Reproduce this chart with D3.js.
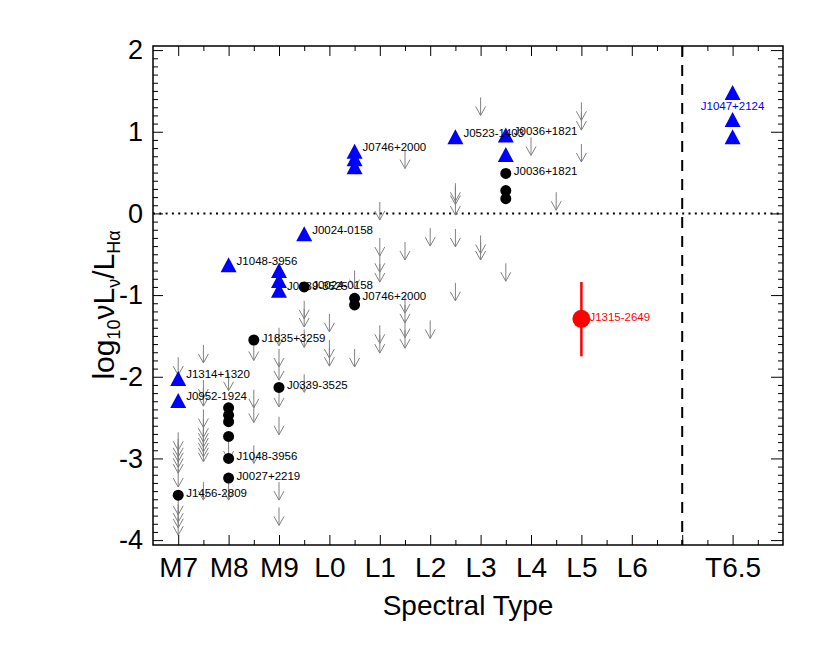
<!DOCTYPE html>
<html>
<head>
<meta charset="utf-8">
<script src="https://cdn.jsdelivr.net/npm/d3@7"></script>
<style>
  html, body { margin: 0; padding: 0; background: #fff; }
  svg { display: block; font-family: "Liberation Sans", Arial, Helvetica, sans-serif; }
</style>
</head>
<body>
<svg id="chart" width="830" height="645"></svg>
<script>
// ---------------- DATA ----------------
const xTickValues = [0, 1, 2, 3, 4, 5, 6, 7, 8, 9, 11];
const xTickLabels = ["M7", "M8", "M9", "L0", "L1", "L2", "L3", "L4", "L5", "L6", "T6.5"];
const yTickValues = [-4, -3, -2, -1, 0, 1, 2];
const yTickLabels = ["-4", "-3", "-2", "-1", "0", "1", "2"];

// radio detections (blue triangles)
const triX = [0, 0, 1, 2, 2, 2, 2.5, 3.5, 3.5, 3.5, 5.5, 6.5, 6.5, 11, 11, 11];
const triY = [-2.02, -2.29, -0.63, -0.70, -0.82, -0.94, -0.25, 0.76, 0.67, 0.57, 0.94, 0.96, 0.72, 1.48, 1.15, 0.94];

// black circles
const circX = [0, 1, 1, 1, 1, 1, 1, 1.5, 2, 2.5, 3.5, 3.5, 6.5, 6.5, 6.5];
const circY = [-3.45, -2.38, -2.47, -2.55, -2.73, -3.00, -3.24, -1.55, -2.13, -0.90, -1.04, -1.12, 0.49, 0.28, 0.18];

// red point with error bar
const redX = [8];
const redY = [-1.29];
const redLo = [-1.75];
const redHi = [-0.84];

// upper limits (grey arrows)
const limX = [
  0, 0, 0, 0, 0, 0, 0, 0, 0, 0, 0,
  0.5, 0.5, 0.5, 0.5, 0.5, 0.5, 0.5, 0.5, 0.5, 0.5, 0.5,
  1, 1, 1,
  1.5, 1.5, 1.5, 1.5,
  2, 2, 2, 2, 2, 2, 2,
  2.5, 2.5, 2.5, 2.5,
  3, 3, 3,
  3.5, 3.5,
  4, 4, 4, 4, 4, 4,
  4.5, 4.5, 4.5, 4.5, 4.5, 4.5,
  5, 5,
  5.5, 5.5, 5.5, 5.5, 5.5,
  6, 6, 6,
  6.5,
  7,
  7.5,
  8, 8, 8
];
const limY = [
  -1.76, -2.68, -2.76, -2.82, -2.89, -2.96, -3.13, -3.47, -3.56, -3.63, -3.72,
  -1.61, -2.04, -2.14, -2.40, -2.52, -2.58, -2.64, -2.70, -2.76, -2.82, -3.29,
  -1.95, -2.80, -3.29,
  -1.58, -2.16, -2.34, -2.84,
  -1.40, -1.66, -1.82, -2.15, -2.49, -3.29, -3.60,
  -1.07, -1.17, -1.42, -1.97,
  -1.23, -1.55, -1.65,
  -0.70, -1.66,
  0.14, -0.30, -0.50, -0.62, -1.37, -1.49,
  0.77, -0.35, -1.00, -1.12, -1.30, -1.43,
  -0.18, -1.31,
  0.37, 0.33, 0.20, -0.19, -0.85,
  1.42, -0.27, -0.35,
  -0.61,
  0.93,
  0.26,
  1.36, 1.24, 0.85
];

// point labels
const labelText = ["J1314+1320", "J0952-1924", "J1048-3956", "J0339-3525", "J0024-0158", "J0746+2000",
  "J0523-1403", "J0036+1821", "J0036+1821", "J1456-2809", "J1048-3956", "J0027+2219",
  "J1835+3259", "J0339-3525", "J0024-0158", "J0746+2000", "J1315-2649"];
const labelX = [0, 0, 1, 2, 2.5, 3.5, 5.5, 6.5, 6.5, 0, 1, 1, 1.5, 2, 2.5, 3.5, 8];
const labelY = [-2.02, -2.29, -0.63, -0.94, -0.25, 0.76, 0.94, 0.96, 0.49, -3.45, -3.00, -3.24, -1.55, -2.13, -0.90, -1.04, -1.29];
const labelKind = ["tri", "tri", "tri", "tri", "tri", "tri", "tri", "tri", "circ", "circ", "circ", "circ", "circ", "circ", "circ", "circ", "red"];

const blueLabel = ["J1047+2124"];
const blueLabelX = [11];
const blueLabelY = [1.31];

// ---------------- LAYOUT ----------------
const svg = d3.select("#chart");
const L = 153, R = 783, T = 46, B = 545;
const x = d3.scaleLinear().domain([-0.5, 12]).range([L, R]);
const y = d3.scaleLinear().domain([-4.06, 2.05]).range([B, T]);
const FONT = "'Liberation Sans', Arial, Helvetica, sans-serif";

const plot = svg.append("g");

// reference lines
plot.append("line")
  .attr("x1", x(-0.5)).attr("x2", x(12))
  .attr("y1", y(0)).attr("y2", y(0))
  .attr("stroke", "#000").attr("stroke-width", 2)
  .attr("stroke-dasharray", "2,4.3");
plot.append("line")
  .attr("x1", x(10)).attr("x2", x(10))
  .attr("y1", y(2.05)).attr("y2", y(-4.06))
  .attr("stroke", "#000").attr("stroke-width", 2)
  .attr("stroke-dasharray", "11,8");

// upper-limit arrows
const lims = limX.map((v, i) => ({ x: v, y: limY[i] }));
const arrowLen = 18, headH = 9, headW = 5;
const ag = plot.append("g").attr("stroke", "#808080").attr("stroke-width", 1).attr("fill", "none");
ag.selectAll("path").data(lims).enter().append("path")
  .attr("d", d => {
    const px = x(d.x), py = y(d.y), pb = py + arrowLen;
    return `M${px},${py}L${px},${pb}M${px - headW},${pb - headH}L${px},${pb}L${px + headW},${pb - headH}`;
  });

// red error bar + point
const reds = redX.map((v, i) => ({ x: v, y: redY[i], lo: redLo[i], hi: redHi[i] }));
plot.selectAll(".err").data(reds).enter().append("line")
  .attr("x1", d => x(d.x)).attr("x2", d => x(d.x))
  .attr("y1", d => y(d.hi)).attr("y2", d => y(d.lo))
  .attr("stroke", "#ff0000").attr("stroke-width", 2.5);
plot.selectAll(".red").data(reds).enter().append("circle")
  .attr("cx", d => x(d.x)).attr("cy", d => y(d.y)).attr("r", 9)
  .attr("fill", "#ff0000");

// black circles
const circs = circX.map((v, i) => ({ x: v, y: circY[i] }));
plot.selectAll(".circ").data(circs).enter().append("circle")
  .attr("cx", d => x(d.x)).attr("cy", d => y(d.y)).attr("r", 5.5)
  .attr("fill", "#000");

// blue triangles
const tris = triX.map((v, i) => ({ x: v, y: triY[i] }));
plot.selectAll(".tri").data(tris).enter().append("path")
  .attr("transform", d => `translate(${x(d.x)},${y(d.y)})`)
  .attr("d", "M0,-7.5L8,7.5L-8,7.5Z")
  .attr("fill", "#0000ff");

// labels
const labels = labelText.map((t, i) => ({ t, x: labelX[i], y: labelY[i], k: labelKind[i] }));
plot.selectAll(".lab").data(labels).enter().append("text")
  .attr("x", d => x(d.x) + 8)
  .attr("y", d => y(d.y) + (d.k === "tri" ? 0 : 2))
  .attr("font-size", 11.5)
  .attr("fill", d => d.k === "red" ? "#ff0000" : "#000")
  .text(d => d.t);

plot.selectAll(".blab").data(blueLabel).enter().append("text")
  .attr("x", (d, i) => x(blueLabelX[i]))
  .attr("y", (d, i) => y(blueLabelY[i]) + 4)
  .attr("text-anchor", "middle")
  .attr("font-size", 11.5)
  .attr("fill", "#0000ff")
  .text(d => d);

// ---------------- AXES ----------------
const axG = svg.append("g");
function styleAxis(g) {
  g.select(".domain").remove();
  g.selectAll(".tick line").attr("stroke", "#000").attr("stroke-width", 1);
}
// bottom
axG.append("g").attr("transform", `translate(0,${B})`)
  .call(d3.axisBottom(x).tickValues(xTickValues).tickSize(-10).tickPadding(12)
    .tickFormat((d, i) => xTickLabels[i]))
  .call(styleAxis)
  .call(g => g.selectAll("text").attr("font-size", 28).attr("fill", "#000").attr("font-family", FONT));
axG.append("g").attr("transform", `translate(0,${B})`)
  .call(d3.axisBottom(x).tickValues([10]).tickSize(-10).tickFormat(""))
  .call(styleAxis);
axG.append("g").attr("transform", `translate(0,${B})`)
  .call(d3.axisBottom(x).tickValues(d3.range(0.5, 12, 1)).tickSize(-5).tickFormat(""))
  .call(styleAxis);
// top
axG.append("g").attr("transform", `translate(0,${T})`)
  .call(d3.axisTop(x).tickValues(d3.range(0, 12)).tickSize(-10).tickFormat(""))
  .call(styleAxis);
axG.append("g").attr("transform", `translate(0,${T})`)
  .call(d3.axisTop(x).tickValues(d3.range(0.5, 12, 1)).tickSize(-5).tickFormat(""))
  .call(styleAxis);
// left
const minorY = d3.range(-40, 21).map(v => v / 10).filter(v => Math.abs(v - Math.round(v)) > 1e-6);
axG.append("g").attr("transform", `translate(${L},0)`)
  .call(d3.axisLeft(y).tickValues(yTickValues).tickSize(-10).tickPadding(10)
    .tickFormat((d, i) => yTickLabels[i]))
  .call(styleAxis)
  .call(g => g.selectAll("text").attr("font-size", 27).attr("fill", "#000").attr("font-family", FONT));
axG.append("g").attr("transform", `translate(${L},0)`)
  .call(d3.axisLeft(y).tickValues(minorY).tickSize(-5).tickFormat(""))
  .call(styleAxis);
// right
axG.append("g").attr("transform", `translate(${R},0)`)
  .call(d3.axisRight(y).tickValues(yTickValues).tickSize(-12).tickFormat(""))
  .call(styleAxis);
axG.append("g").attr("transform", `translate(${R},0)`)
  .call(d3.axisRight(y).tickValues(minorY).tickSize(-5).tickFormat(""))
  .call(styleAxis);

// frame
svg.append("rect").attr("x", L).attr("y", T).attr("width", R - L).attr("height", B - T)
  .attr("fill", "none").attr("stroke", "#000").attr("stroke-width", 1.5);

// axis titles
svg.append("text")
  .attr("x", (L + R) / 2).attr("y", 615)
  .attr("text-anchor", "middle").attr("font-size", 28)
  .text("Spectral Type");

const yt = svg.append("text")
  .attr("transform", `translate(114,305) rotate(-90)`)
  .attr("text-anchor", "middle").attr("font-size", 30);
yt.append("tspan").text("log");
yt.append("tspan").attr("font-size", 18).attr("dy", 6).text("10");
yt.append("tspan").attr("dy", -6).text("νL");
yt.append("tspan").attr("font-size", 18).attr("dy", 6).text("ν");
yt.append("tspan").attr("dy", -6).text("/L");
yt.append("tspan").attr("font-size", 18).attr("dy", 6).text("Hα");
</script>
</body>
</html>
